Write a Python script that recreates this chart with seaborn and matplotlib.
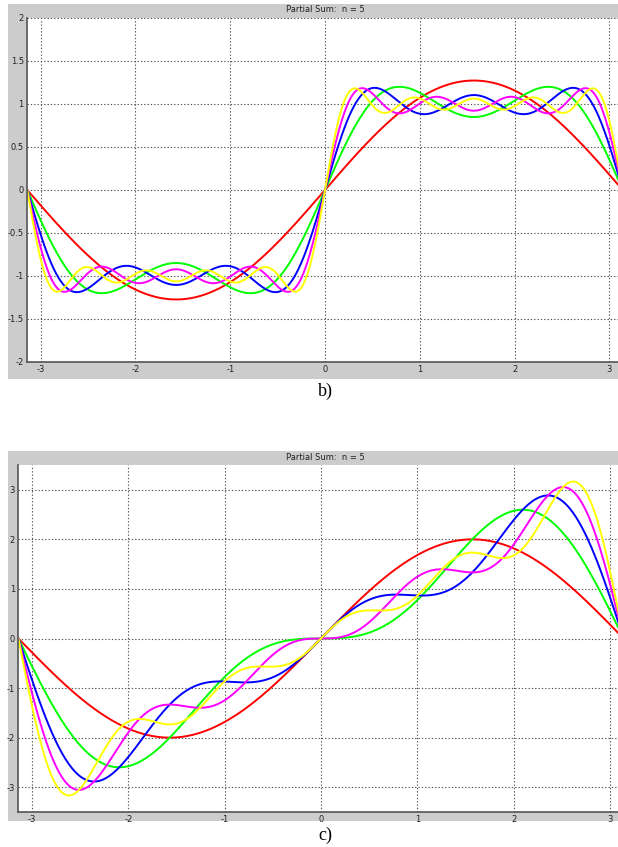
'''
Partial sums of Fourier series (square wave and sawtooth), n = 1..5
'''
import numpy as np
import pandas as pd
import matplotlib
matplotlib.use("Agg")
import matplotlib.pyplot as plt
import seaborn as sns
from matplotlib.patches import Rectangle

# harmonic number and amplitude of each term
square_harmonics = [1, 3, 5, 7, 9]
square_amps = [1.273, 0.424, 0.255, 0.182, 0.141]
saw_harmonics = [1, 2, 3, 4, 5]
saw_amps = [2.0, -1.0, 0.667, -0.5, 0.4]

n_terms = [1, 2, 3, 4, 5]
colors = ["#ff0000", "#00ff00", "#0000ff", "#ff00ff", "#ffff00"]

b_yticks = [-2, -1.5, -1, -0.5, 0, 0.5, 1, 1.5, 2]
b_yticklabels = ["-2", "-1.5", "-1", "-0.5", "0", "0.5", "1", "1.5", "2"]
c_yticks = [-3, -2, -1, 0, 1, 2, 3]
xticks = [-3, -2, -1, 0, 1, 2, 3]

x = np.linspace(-np.pi, np.pi, 800)


def partial_sums(harm, amps):
    rows = []
    total = np.zeros_like(x)
    for k, h, a in zip(n_terms, harm, amps):
        total = total + a * np.sin(h * x)
        rows.append(pd.DataFrame({"x": x, "y": total.copy(), "n": k}))
    return pd.concat(rows, ignore_index=True)


df_b = partial_sums(square_harmonics, square_amps)
df_c = partial_sums(saw_harmonics, saw_amps)

sns.set_style("white")
plt.rcParams["font.family"] = ["DejaVu Sans"]

W, H = 618, 847
fig = plt.figure(figsize=(W / 100, H / 100), dpi=100)
fig.patch.set_facecolor("white")

gray = "#cccccc"


def px(l, t, r, b):
    # pixel box -> figure fraction [left, bottom, width, height]
    return [l / W, 1 - b / H, (r - l) / W, (b - t) / H]


for box in [(8, 4, 640, 379), (8, 451, 640, 821)]:
    l, bt, w, h = px(*box)
    fig.patches.append(Rectangle((l, bt), w, h, transform=fig.transFigure,
                                 facecolor=gray, edgecolor="none", zorder=-10))

panels = [
    (df_b, px(27.3, 18, 622.7, 362), (-2, 2), b_yticks, b_yticklabels, 10, 391, "b)"),
    (df_c, px(18.4, 465, 623.6, 812), (-3.5, 3.5), c_yticks,
     [str(t) for t in c_yticks], 457, 835, "c)"),
]

for df, pos, ylim, yt, ytl, title_y, cap_y, cap in panels:
    ax = fig.add_axes(pos)
    ax.set_zorder(1)
    sns.lineplot(data=df, x="x", y="y", hue="n", palette=colors,
                 estimator=None, sort=False, linewidth=1.4, legend=False, ax=ax)
    ax.set_xlim(-np.pi, np.pi)
    ax.set_ylim(*ylim)
    ax.set_xticks(xticks)
    ax.set_xticklabels([str(t) for t in xticks])
    ax.set_yticks(yt)
    ax.set_yticklabels(ytl)
    ax.set_xlabel("")
    ax.set_ylabel("")
    ax.set_facecolor("white")
    ax.grid(True, color="#555555", linestyle=(0, (1.2, 1.8)), linewidth=0.8)
    for s in ["top", "right"]:
        ax.spines[s].set_visible(False)
    for s in ["left", "bottom"]:
        ax.spines[s].set_color("#555555")
        ax.spines[s].set_linewidth(1.2)
    ax.tick_params(direction="in", length=3, width=0.8, color="#444444",
                   labelsize=6, labelcolor="#222222", pad=2.5)
    fig.text(325 / W, 1 - title_y / H, "Partial Sum:  n = 5", ha="center",
             va="center", fontsize=6, color="#222222")
    fig.text(325 / W, 1 - cap_y / H, cap, ha="center", va="center",
             fontsize=13, family="Liberation Serif", color="black")

fig.savefig("out.png", dpi=100)
